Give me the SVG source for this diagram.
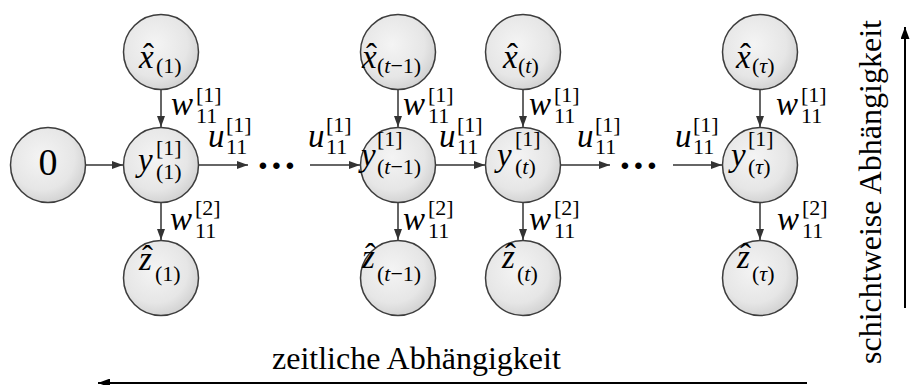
<svg xmlns="http://www.w3.org/2000/svg" width="910" height="385" viewBox="0 0 910 385">
<defs>
<radialGradient id="g" cx="0.42" cy="0.4" r="0.62">
<stop offset="0" stop-color="#f4f4f4"/>
<stop offset="0.7" stop-color="#e6e6e6"/>
<stop offset="1" stop-color="#d2d2d2"/>
</radialGradient>
<marker id="ah" markerUnits="userSpaceOnUse" markerWidth="11" markerHeight="8" refX="11" refY="4" orient="auto">
<path d="M0,0 L11,4 L0,8 z" fill="#333"/>
</marker>
<marker id="bh" markerUnits="userSpaceOnUse" markerWidth="12" markerHeight="9" refX="12" refY="4.5" orient="auto">
<path d="M0,0 L12,4.5 L0,9 z" fill="#000"/>
</marker>
</defs>

<g id="connectors" fill="none" stroke="#333" stroke-width="1.5">
<line x1="86" y1="165" x2="123" y2="165" marker-end="url(#ah)"/>
<line x1="199" y1="165" x2="248" y2="165" marker-end="url(#ah)"/>
<line x1="310" y1="165" x2="360" y2="165" marker-end="url(#ah)"/>
<line x1="436" y1="165" x2="485" y2="165" marker-end="url(#ah)"/>
<line x1="561" y1="165" x2="610" y2="165" marker-end="url(#ah)"/>
<line x1="673" y1="165" x2="722" y2="165" marker-end="url(#ah)"/>
<line x1="161" y1="90" x2="161" y2="127" marker-end="url(#ah)"/>
<line x1="398" y1="90" x2="398" y2="127" marker-end="url(#ah)"/>
<line x1="523" y1="90" x2="523" y2="127" marker-end="url(#ah)"/>
<line x1="760" y1="90" x2="760" y2="127" marker-end="url(#ah)"/>
<line x1="161" y1="203" x2="161" y2="240" marker-end="url(#ah)"/>
<line x1="398" y1="203" x2="398" y2="240" marker-end="url(#ah)"/>
<line x1="523" y1="203" x2="523" y2="240" marker-end="url(#ah)"/>
<line x1="760" y1="203" x2="760" y2="240" marker-end="url(#ah)"/>
<line x1="807" y1="383" x2="98" y2="383" stroke="#000" stroke-width="2" marker-end="url(#bh)"/>
<line x1="905" y1="308" x2="905" y2="27" stroke="#000" stroke-width="2" marker-end="url(#bh)"/>
</g>

<g id="connector-labels">
<text font-family="Liberation Serif" font-size="33" font-style="italic" x="171" y="115">w</text>
<text font-family="Liberation Serif" font-size="22" x="196" y="102">[1]</text>
<text font-family="Liberation Serif" font-size="22" x="196" y="123">11</text>
<text font-family="Liberation Serif" font-size="33" font-style="italic" x="403" y="115">w</text>
<text font-family="Liberation Serif" font-size="22" x="428" y="102">[1]</text>
<text font-family="Liberation Serif" font-size="22" x="428" y="123">11</text>
<text font-family="Liberation Serif" font-size="33" font-style="italic" x="529" y="115">w</text>
<text font-family="Liberation Serif" font-size="22" x="554" y="102">[1]</text>
<text font-family="Liberation Serif" font-size="22" x="554" y="123">11</text>
<text font-family="Liberation Serif" font-size="33" font-style="italic" x="776" y="115">w</text>
<text font-family="Liberation Serif" font-size="22" x="801" y="102">[1]</text>
<text font-family="Liberation Serif" font-size="22" x="801" y="123">11</text>
<text font-family="Liberation Serif" font-size="33" font-style="italic" x="170" y="230">w</text>
<text font-family="Liberation Serif" font-size="22" x="195" y="215">[2]</text>
<text font-family="Liberation Serif" font-size="22" x="195" y="238">11</text>
<text font-family="Liberation Serif" font-size="33" font-style="italic" x="403" y="230">w</text>
<text font-family="Liberation Serif" font-size="22" x="428" y="215">[2]</text>
<text font-family="Liberation Serif" font-size="22" x="428" y="238">11</text>
<text font-family="Liberation Serif" font-size="33" font-style="italic" x="529" y="230">w</text>
<text font-family="Liberation Serif" font-size="22" x="554" y="215">[2]</text>
<text font-family="Liberation Serif" font-size="22" x="554" y="238">11</text>
<text font-family="Liberation Serif" font-size="33" font-style="italic" x="777" y="230">w</text>
<text font-family="Liberation Serif" font-size="22" x="802" y="215">[2]</text>
<text font-family="Liberation Serif" font-size="22" x="802" y="238">11</text>
<text font-family="Liberation Serif" font-size="33" font-style="italic" x="208" y="147">u</text>
<text font-family="Liberation Serif" font-size="22" x="226" y="132">[1]</text>
<text font-family="Liberation Serif" font-size="22" x="226" y="154">11</text>
<text font-family="Liberation Serif" font-size="33" font-style="italic" x="308" y="147">u</text>
<text font-family="Liberation Serif" font-size="22" x="326" y="132">[1]</text>
<text font-family="Liberation Serif" font-size="22" x="326" y="154">11</text>
<text font-family="Liberation Serif" font-size="33" font-style="italic" x="439" y="147">u</text>
<text font-family="Liberation Serif" font-size="22" x="457" y="132">[1]</text>
<text font-family="Liberation Serif" font-size="22" x="457" y="154">11</text>
<text font-family="Liberation Serif" font-size="33" font-style="italic" x="577" y="147">u</text>
<text font-family="Liberation Serif" font-size="22" x="595" y="132">[1]</text>
<text font-family="Liberation Serif" font-size="22" x="595" y="154">11</text>
<text font-family="Liberation Serif" font-size="33" font-style="italic" x="675" y="147">u</text>
<text font-family="Liberation Serif" font-size="22" x="693" y="132">[1]</text>
<text font-family="Liberation Serif" font-size="22" x="693" y="154">11</text>
<text font-family="Liberation Serif" font-size="40" font-weight="bold" text-anchor="middle" x="263 276.5 290" y="179">···</text>
<text font-family="Liberation Serif" font-size="40" font-weight="bold" text-anchor="middle" x="625 638.5 652" y="179">···</text>
</g>

<g id="n0"><circle cx="48" cy="165" r="37.5" fill="url(#g)" stroke="#3d3d3d" stroke-width="1.5"/>
<text font-family="Liberation Serif" font-size="38" text-anchor="middle" x="48" y="175">0</text></g>

<g id="x1"><circle cx="161" cy="52" r="37.5" fill="url(#g)" stroke="#3d3d3d" stroke-width="1.5"/>
<text font-family="Liberation Serif" font-size="33" font-style="italic" x="139" y="68">x</text>
<text font-family="Liberation Serif" font-size="33" x="143" y="67">ˆ</text>
<text font-family="Liberation Serif" font-size="22" x="156" y="73">(1)</text></g>
<g id="y1"><circle cx="161" cy="165" r="37.5" fill="url(#g)" stroke="#3d3d3d" stroke-width="1.5"/>
<text font-family="Liberation Serif" font-size="33" font-style="italic" x="138" y="171">y</text>
<text font-family="Liberation Serif" font-size="22" x="156" y="155">[1]</text>
<text font-family="Liberation Serif" font-size="22" x="156" y="179">(1)</text></g>
<g id="z1"><circle cx="161" cy="278" r="37.5" fill="url(#g)" stroke="#3d3d3d" stroke-width="1.5"/>
<text font-family="Liberation Serif" font-size="33" font-style="italic" x="139" y="270">z</text>
<text font-family="Liberation Serif" font-size="33" x="142" y="269">ˆ</text>
<text font-family="Liberation Serif" font-size="22" x="155" y="281">(1)</text></g>

<g id="xt1"><circle cx="398" cy="52" r="37.5" fill="url(#g)" stroke="#3d3d3d" stroke-width="1.5"/>
<text font-family="Liberation Serif" font-size="33" font-style="italic" x="362" y="68">x</text>
<text font-family="Liberation Serif" font-size="33" x="366" y="67">ˆ</text>
<text font-family="Liberation Serif" font-size="22" x="377" y="73">(<tspan font-style="italic">t</tspan>−1)</text></g>
<g id="yt1"><circle cx="398" cy="165" r="37.5" fill="url(#g)" stroke="#3d3d3d" stroke-width="1.5"/>
<text font-family="Liberation Serif" font-size="33" font-style="italic" x="361" y="166">y</text>
<text font-family="Liberation Serif" font-size="22" x="377" y="146">[1]</text>
<text font-family="Liberation Serif" font-size="22" x="377" y="174">(<tspan font-style="italic">t</tspan>−1)</text></g>
<g id="zt1"><circle cx="398" cy="278" r="37.5" fill="url(#g)" stroke="#3d3d3d" stroke-width="1.5"/>
<text font-family="Liberation Serif" font-size="33" font-style="italic" x="362" y="268">z</text>
<text font-family="Liberation Serif" font-size="33" x="365" y="267">ˆ</text>
<text font-family="Liberation Serif" font-size="22" x="377" y="281">(<tspan font-style="italic">t</tspan>−1)</text></g>

<g id="xt"><circle cx="523" cy="52" r="37.5" fill="url(#g)" stroke="#3d3d3d" stroke-width="1.5"/>
<text font-family="Liberation Serif" font-size="33" font-style="italic" x="503" y="68">x</text>
<text font-family="Liberation Serif" font-size="33" x="507" y="67">ˆ</text>
<text font-family="Liberation Serif" font-size="22" x="518" y="73">(<tspan font-style="italic">t</tspan>)</text></g>
<g id="yt"><circle cx="523" cy="165" r="37.5" fill="url(#g)" stroke="#3d3d3d" stroke-width="1.5"/>
<text font-family="Liberation Serif" font-size="33" font-style="italic" x="497" y="166">y</text>
<text font-family="Liberation Serif" font-size="22" x="515" y="146">[1]</text>
<text font-family="Liberation Serif" font-size="22" x="515" y="174">(<tspan font-style="italic">t</tspan>)</text></g>
<g id="zt"><circle cx="523" cy="278" r="37.5" fill="url(#g)" stroke="#3d3d3d" stroke-width="1.5"/>
<text font-family="Liberation Serif" font-size="33" font-style="italic" x="502" y="268">z</text>
<text font-family="Liberation Serif" font-size="33" x="505" y="267">ˆ</text>
<text font-family="Liberation Serif" font-size="22" x="517" y="281">(<tspan font-style="italic">t</tspan>)</text></g>

<g id="xtau"><circle cx="760" cy="52" r="37.5" fill="url(#g)" stroke="#3d3d3d" stroke-width="1.5"/>
<text font-family="Liberation Serif" font-size="33" font-style="italic" x="736" y="68">x</text>
<text font-family="Liberation Serif" font-size="33" x="740" y="67">ˆ</text>
<text font-family="Liberation Serif" font-size="22" x="752" y="73">(<tspan font-style="italic">τ</tspan>)</text></g>
<g id="ytau"><circle cx="760" cy="165" r="37.5" fill="url(#g)" stroke="#3d3d3d" stroke-width="1.5"/>
<text font-family="Liberation Serif" font-size="33" font-style="italic" x="731" y="166">y</text>
<text font-family="Liberation Serif" font-size="22" x="748" y="146">[1]</text>
<text font-family="Liberation Serif" font-size="22" x="748" y="174">(<tspan font-style="italic">τ</tspan>)</text></g>
<g id="ztau"><circle cx="760" cy="278" r="37.5" fill="url(#g)" stroke="#3d3d3d" stroke-width="1.5"/>
<text font-family="Liberation Serif" font-size="33" font-style="italic" x="737" y="268">z</text>
<text font-family="Liberation Serif" font-size="33" x="740" y="267">ˆ</text>
<text font-family="Liberation Serif" font-size="22" x="752" y="281">(<tspan font-style="italic">τ</tspan>)</text></g>

<g id="axis-labels">
<text font-family="Liberation Serif" font-size="32" x="272" y="369">zeitliche Abhängigkeit</text>
<text font-family="Liberation Serif" font-size="32" transform="translate(881,364) rotate(-90)" x="0" y="0">schichtweise Abhängigkeit</text>
</g>
</svg>
